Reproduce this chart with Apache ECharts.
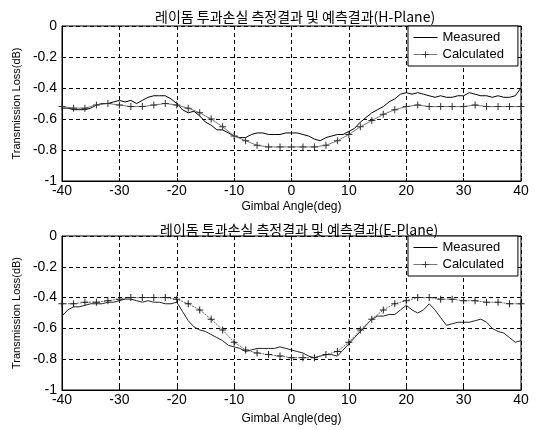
<!DOCTYPE html>
<html>
<head>
<meta charset="utf-8">
<script src="https://cdn.jsdelivr.net/npm/echarts@6/dist/echarts.min.js"></script>
<style>
  html, body { margin: 0; padding: 0; background: #fff; }
  #chart { width: 539px; height: 430px; }
</style>
</head>
<body>
<div id="chart"></div>
<script>
  // 각도 (측정: 1도 간격, 계산: 2도 간격)
  const measAngles = [-40,-39,-38,-37,-36,-35,-34,-33,-32,-31,-30,-29,-28,-27,-26,-25,-24,-23,-22,-21,
    -20,-19,-18,-17,-16,-15,-14,-13,-12,-11,-10,-9,-8,-7,-6,-5,-4,-3,-2,-1,
    0,1,2,3,4,5,6,7,8,9,10,11,12,13,14,15,16,17,18,19,
    20,21,22,23,24,25,26,27,28,29,30,31,32,33,34,35,36,37,38,39,40]
  const calcAngles = [-40,-38,-36,-34,-32,-30,-28,-26,-24,-22,-20,-18,-16,-14,-12,-10,-8,-6,-4,-2,
    0,2,4,6,8,10,12,14,16,18,20,22,24,26,28,30,32,34,36,38,40]

  // H-Plane
  const hMeasured = [-0.53,-0.53,-0.54,-0.54,-0.54,-0.53,-0.51,-0.50,-0.50,-0.49,-0.48,-0.49,-0.48,-0.50,-0.48,-0.46,-0.45,-0.45,-0.45,-0.47,
    -0.50,-0.54,-0.56,-0.55,-0.58,-0.62,-0.64,-0.67,-0.67,-0.69,-0.71,-0.72,-0.72,-0.70,-0.69,-0.69,-0.70,-0.70,-0.70,-0.69,
    -0.69,-0.69,-0.70,-0.71,-0.73,-0.74,-0.72,-0.71,-0.70,-0.70,-0.68,-0.66,-0.62,-0.59,-0.56,-0.54,-0.52,-0.49,-0.47,-0.44,
    -0.43,-0.44,-0.43,-0.44,-0.45,-0.46,-0.45,-0.46,-0.46,-0.45,-0.45,-0.43,-0.44,-0.45,-0.45,-0.46,-0.45,-0.46,-0.46,-0.45,-0.40]
  const hCalculated = [-0.52,-0.53,-0.53,-0.51,-0.50,-0.51,-0.52,-0.52,-0.51,-0.50,-0.51,-0.53,-0.56,-0.60,-0.65,-0.71,-0.74,-0.77,-0.78,-0.78,
    -0.78,-0.78,-0.78,-0.77,-0.74,-0.70,-0.65,-0.61,-0.57,-0.54,-0.52,-0.51,-0.52,-0.52,-0.52,-0.52,-0.51,-0.52,-0.52,-0.52,-0.52]

  // E-Plane
  const eMeasured = [-0.52,-0.48,-0.46,-0.46,-0.45,-0.44,-0.44,-0.44,-0.43,-0.43,-0.42,-0.41,-0.41,-0.42,-0.43,-0.42,-0.43,-0.43,-0.44,-0.44,
    -0.43,-0.49,-0.55,-0.59,-0.61,-0.62,-0.64,-0.66,-0.68,-0.71,-0.72,-0.73,-0.75,-0.74,-0.73,-0.73,-0.73,-0.73,-0.72,-0.73,
    -0.74,-0.75,-0.76,-0.78,-0.79,-0.78,-0.77,-0.77,-0.78,-0.74,-0.70,-0.66,-0.62,-0.58,-0.54,-0.52,-0.52,-0.51,-0.51,-0.48,
    -0.45,-0.48,-0.50,-0.48,-0.44,-0.48,-0.53,-0.58,-0.57,-0.56,-0.56,-0.56,-0.55,-0.54,-0.56,-0.60,-0.62,-0.63,-0.66,-0.69,-0.68]
  const eCalculated = [-0.44,-0.44,-0.43,-0.43,-0.42,-0.41,-0.40,-0.40,-0.40,-0.40,-0.41,-0.44,-0.48,-0.54,-0.61,-0.69,-0.74,-0.76,-0.77,-0.78,
    -0.79,-0.79,-0.79,-0.77,-0.75,-0.69,-0.61,-0.54,-0.48,-0.44,-0.42,-0.40,-0.40,-0.41,-0.41,-0.42,-0.42,-0.43,-0.43,-0.44,-0.44]

  const titles = ['레이돔 투과손실 측정결과 및 예측결과(H-Plane)', '레이돔 투과손실 측정결과 및 예측결과(E-Plane)']
  const xTicks = { min: -40, max: 40, interval: 10 }
  const yTicks = { min: -1, max: 0, interval: 0.2 }

  const font = 'Liberation Sans'
  const plus = 'path://M3,0H4V3H7V4H4V7H3V4H0V3H3Z'
  // 범례에 점이 안 보이도록 빈 심볼
  const noMark = 'path://M0,0L1,0L1,1L0,1Z'

  const zip = (xs, ys) => xs.map((x, i) => [x, ys[i]])

  const makeX = (idx, gap) => ({
    type: 'value',
    gridIndex: idx,
    min: xTicks.min,
    max: xTicks.max,
    interval: xTicks.interval,
    name: 'Gimbal Angle(deg)',
    nameLocation: 'middle',
    nameGap: gap,
    nameTextStyle: { color: '#000', fontFamily: font, fontSize: 12 },
    axisLine: { show: true, onZero: false, lineStyle: { color: '#000', width: 1 } },
    axisTick: { show: true, inside: true, length: 3, lineStyle: { color: '#000' } },
    axisLabel: { color: '#000', fontFamily: font, fontSize: 14, margin: 3 },
    splitLine: { show: true, lineStyle: { color: '#000', type: [4, 3], width: 1 } }
  })

  const makeY = (idx) => ({
    type: 'value',
    gridIndex: idx,
    min: yTicks.min,
    max: yTicks.max,
    interval: yTicks.interval,
    name: 'Transmission Loss(dB)',
    nameLocation: 'middle',
    nameGap: 38,
    nameTextStyle: { color: '#000', fontFamily: font, fontSize: 11 },
    axisLine: { show: true, onZero: false, lineStyle: { color: '#000', width: 1 } },
    axisTick: { show: true, inside: true, length: 3, lineStyle: { color: '#000' } },
    axisLabel: {
      color: '#000', fontFamily: font, fontSize: 14, margin: 5,
      formatter: (v) => (v === 0 ? '0' : Math.abs(v + 1) < 1e-9 ? '-1' : v.toFixed(1))
    },
    splitLine: { show: true, lineStyle: { color: '#000', type: [4, 3], width: 1 } }
  })

  const makeLegend = (top) => ({
    left: 408,
    top: top,
    orient: 'vertical',
    backgroundColor: '#fff',
    borderColor: '#000',
    borderWidth: 1,
    borderRadius: 0,
    padding: [5, 14, 5, 5],
    itemGap: 4,
    itemWidth: 24,
    itemHeight: 8,
    itemTextGap: 12,
    lineStyle: { width: 1 },
    textStyle: { color: '#000', fontFamily: font, fontSize: 13 },
    data: ['Measured', 'Calculated']
  })

  const chart = echarts.init(document.getElementById('chart'), null, { renderer: 'canvas' })
  chart.setOption({
    animation: false,
    backgroundColor: '#fff',
    title: [
      { text: titles[0], left: 150, top: 5, textStyle: { fontFamily: 'Noto Sans CJK KR', fontSize: 14, fontWeight: 'normal', color: '#000' } },
      { text: titles[1], left: 155, top: 218, textStyle: { fontFamily: 'Noto Sans CJK KR', fontSize: 14, fontWeight: 'normal', color: '#000' } }
    ],
    legend: [
      Object.assign(makeLegend(26), { id: 'h' }),
      Object.assign(makeLegend(236), { id: 'e' })
    ],
    grid: [
      { left: 62, right: 18, top: 26, height: 155, show: true, borderColor: '#000', borderWidth: 1 },
      { left: 62, right: 18, top: 236, height: 154, show: true, borderColor: '#000', borderWidth: 1 }
    ],
    xAxis: [makeX(0, 20), makeX(1, 23)],
    yAxis: [makeY(0), makeY(1)],
    series: [
      {
        name: 'Measured', type: 'line', xAxisIndex: 0, yAxisIndex: 0,
        data: zip(measAngles, hMeasured), symbol: noMark, showSymbol: false,
        lineStyle: { color: '#000', width: 1 }, itemStyle: { color: 'transparent', borderColor: 'transparent' }
      },
      {
        name: 'Calculated', type: 'line', xAxisIndex: 0, yAxisIndex: 0,
        data: zip(calcAngles, hCalculated), symbol: plus, symbolSize: 7, showSymbol: true,
        lineStyle: { color: '#777', width: 1 }, itemStyle: { color: '#333' }
      },
      {
        name: 'Measured', type: 'line', xAxisIndex: 1, yAxisIndex: 1,
        data: zip(measAngles, eMeasured), symbol: noMark, showSymbol: false,
        lineStyle: { color: '#222', width: 1 }, itemStyle: { color: 'transparent', borderColor: 'transparent' }
      },
      {
        name: 'Calculated', type: 'line', xAxisIndex: 1, yAxisIndex: 1,
        data: zip(calcAngles, eCalculated), symbol: plus, symbolSize: 7, showSymbol: true,
        lineStyle: { color: '#666', width: 1, type: [2, 1] }, itemStyle: { color: '#222' }
      }
    ]
  })
</script>
</body>
</html>
